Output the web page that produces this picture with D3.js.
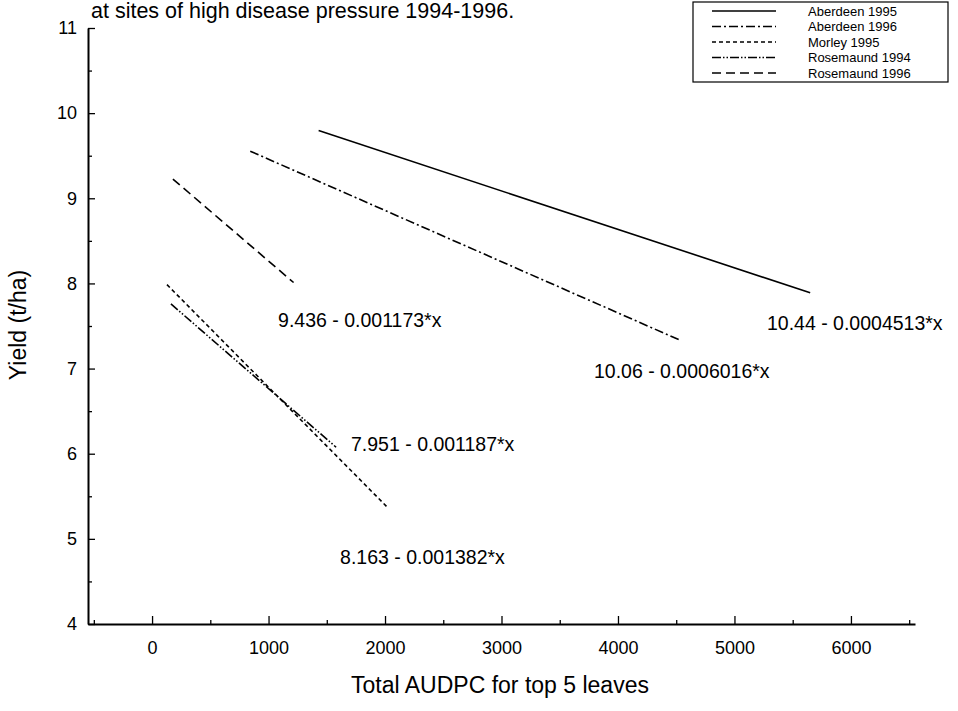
<!DOCTYPE html>
<html>
<head>
<meta charset="utf-8">
<script src="https://cdn.jsdelivr.net/npm/d3@7"></script>
<style>
  body { margin: 0; background: #fff; }
  svg { font-family: "Liberation Sans", Arial, sans-serif; }
</style>
</head>
<body>
<svg width="958" height="711"></svg>
<script>
// Regression lines, yield vs total AUDPC
const series = ["Aberdeen 1995", "Aberdeen 1996", "Morley 1995", "Rosemaund 1994", "Rosemaund 1996"];
const xStart = [1430, 843, 128, 162, 179];
const xEnd = [5650, 4540, 2020, 1580, 1215];
const yStart = [9.795, 9.553, 7.986, 7.759, 9.226];
const yEnd = [7.890, 7.329, 5.371, 6.076, 8.011];
const equations = ["10.44 - 0.0004513*x", "10.06 - 0.0006016*x", "8.163 - 0.001382*x", "7.951 - 0.001187*x", "9.436 - 0.001173*x"];

const xTicks = [0, 1000, 2000, 3000, 4000, 5000, 6000];
const xMinor = [-500, 500, 1500, 2500, 3500, 4500, 5500, 6500];
const yTicks = [4, 5, 6, 7, 8, 9, 10, 11];
const yMinor = [4.5, 5.5, 6.5, 7.5, 8.5, 9.5, 10.5];

// where each equation label sits, in data units (left edge, baseline)
const labelX = [5279, 3794, 1614, 1708, 1082];
const labelY = [7.45, 6.89, 4.70, 6.03, 7.49];

const dashes = ["none", "9,3,2,3", "4,3", "9,2,1.5,2,1.5,2", "9,5"];

const svg = d3.select("svg");

const x = d3.scaleLinear().domain([-550, 6550]).range([88, 915]);
const y = d3.scaleLinear().domain([4, 11]).range([624, 28]);

// X axis
svg.append("g")
    .attr("transform", `translate(0,${y(4)})`)
    .call(d3.axisBottom(x).tickValues(xMinor).tickSize(-4).tickFormat("").tickSizeOuter(0))
    .call(g => g.select(".domain").remove());
const xAxis = svg.append("g")
    .attr("transform", `translate(0,${y(4)})`)
    .call(d3.axisBottom(x).tickValues(xTicks).tickSize(-8).tickSizeOuter(0)
        .tickPadding(17).tickFormat(d3.format("d")));
xAxis.select(".domain").attr("stroke-width", 2);
xAxis.selectAll("text").attr("font-size", 18).attr("font-family", null);

// Y axis
svg.append("g")
    .attr("transform", `translate(${x(-550)},0)`)
    .call(d3.axisLeft(y).tickValues(yMinor).tickSize(-4).tickFormat("").tickSizeOuter(0))
    .call(g => g.select(".domain").remove());
const yAxis = svg.append("g")
    .attr("transform", `translate(${x(-550)},0)`)
    .call(d3.axisLeft(y).tickValues(yTicks).tickSize(-7).tickSizeOuter(0)
        .tickPadding(11).tickFormat(d3.format("d")));
yAxis.select(".domain").attr("stroke-width", 2);
yAxis.selectAll("text").attr("font-size", 18).attr("font-family", null);
svg.selectAll(".tick line").attr("stroke-width", 1.3);

// Lines
svg.selectAll(".fit")
    .data(series)
    .enter().append("line")
    .attr("class", "fit")
    .attr("x1", (d, i) => x(xStart[i]))
    .attr("y1", (d, i) => y(yStart[i]))
    .attr("x2", (d, i) => x(xEnd[i]))
    .attr("y2", (d, i) => y(yEnd[i]))
    .attr("stroke", "#000")
    .attr("stroke-width", 1.6)
    .attr("stroke-dasharray", (d, i) => dashes[i]);

// Equation labels
svg.selectAll(".eq")
    .data(equations)
    .enter().append("text")
    .attr("class", "eq")
    .attr("x", (d, i) => x(labelX[i]))
    .attr("y", (d, i) => y(labelY[i]))
    .attr("font-size", 19.5)
    .text(d => d);

// Titles
svg.append("text")
    .attr("x", 91).attr("y", 18)
    .attr("font-size", 21.5)
    .text("at sites of high disease pressure 1994-1996.");

svg.append("text")
    .attr("x", 500).attr("y", 693)
    .attr("text-anchor", "middle")
    .attr("font-size", 23)
    .text("Total AUDPC for top 5 leaves");

svg.append("text")
    .attr("transform", "translate(26,325) rotate(-90)")
    .attr("text-anchor", "middle")
    .attr("font-size", 23)
    .text("Yield (t/ha)");

// Legend
const legend = svg.append("g").attr("transform", "translate(693,2)");
legend.append("rect")
    .attr("width", 255).attr("height", 80)
    .attr("fill", "#fff").attr("stroke", "#000").attr("stroke-width", 1.2);
const rows = legend.selectAll(".row")
    .data(series)
    .enter().append("g")
    .attr("transform", (d, i) => `translate(0,${9 + i * 15.5})`);
rows.append("line")
    .attr("x1", 19).attr("x2", 83)
    .attr("stroke", "#000").attr("stroke-width", 1.6)
    .attr("stroke-dasharray", (d, i) => dashes[i]);
rows.append("text")
    .attr("x", 115).attr("dy", "0.35em")
    .attr("font-size", 13)
    .text(d => d);
</script>
</body>
</html>
